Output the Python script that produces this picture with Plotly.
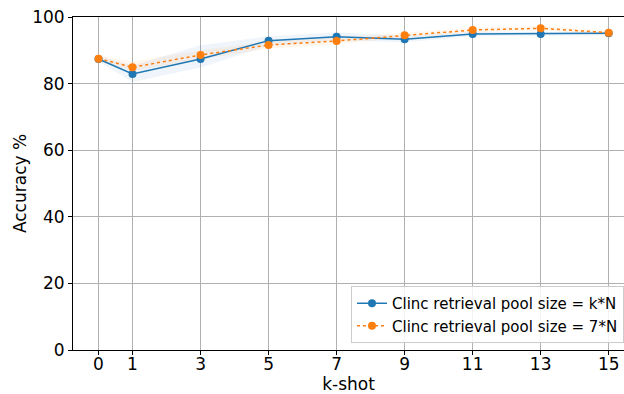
import plotly.graph_objects as go

k_shot = [0, 1, 3, 5, 7, 9, 11, 13, 15]
acc_kN = [87.4, 82.9, 87.4, 92.9, 94.1, 93.3, 94.9, 94.9, 95.1]
acc_7N = [87.5, 84.9, 88.6, 91.6, 92.8, 94.5, 96.1, 96.6, 95.3]
kN_low = [86.6, 80.5, 84.8, 91.4, 93.0, 92.4, 94.2, 94.3, 94.5]
kN_high = [88.3, 85.4, 91.5, 94.2, 95.4, 94.4, 95.6, 95.5, 95.6]
sevenN_low = [86.6, 83.8, 87.3, 90.5, 91.9, 93.8, 95.4, 96.0, 94.7]
sevenN_high = [88.4, 86.6, 90.0, 92.7, 93.8, 95.2, 96.8, 97.3, 95.9]

tick_labels = [str(k) for k in k_shot]
y_ticks = [0, 20, 40, 60, 80, 100]
name_kN = "Clinc retrieval pool size = k*N"
name_7N = "Clinc retrieval pool size = 7*N"

blue = "#1f77b4"
orange = "#ff7f0e"

fig = go.Figure()
# bands
fig.add_trace(go.Scatter(x=k_shot, y=kN_high, mode="lines", line=dict(width=0),
                         showlegend=False, hoverinfo="skip"))
fig.add_trace(go.Scatter(x=k_shot, y=kN_low, mode="lines", line=dict(width=0),
                         fill="tonexty", fillcolor="rgba(31,119,180,0.07)",
                         showlegend=False, hoverinfo="skip"))
fig.add_trace(go.Scatter(x=k_shot, y=sevenN_high, mode="lines", line=dict(width=0),
                         showlegend=False, hoverinfo="skip"))
fig.add_trace(go.Scatter(x=k_shot, y=sevenN_low, mode="lines", line=dict(width=0),
                         fill="tonexty", fillcolor="rgba(255,127,14,0.07)",
                         showlegend=False, hoverinfo="skip"))

fig.add_trace(go.Scatter(x=k_shot, y=acc_kN, mode="lines+markers", name=name_kN,
                         line=dict(color=blue, width=1.5),
                         marker=dict(color=blue, size=8)))
fig.add_trace(go.Scatter(x=k_shot, y=acc_7N, mode="lines+markers", name=name_7N,
                         line=dict(color=orange, width=1.5, dash="dot"),
                         marker=dict(color=orange, size=8)))

font = "DejaVu Sans"
fig.update_layout(
    width=624, height=394,
    margin=dict(l=73, r=0, t=17, b=44),
    paper_bgcolor="white", plot_bgcolor="white",
    font=dict(family=font, size=17, color="black"),
    legend=dict(x=1.0, xanchor="right", y=0.021, yanchor="bottom",
                traceorder="normal",
                bgcolor="rgba(255,255,255,0.85)", bordercolor="#cccccc", borderwidth=1,
                font=dict(family=font, size=15), tracegroupgap=0),
)
fig.update_xaxes(
    range=[-0.75, 15.45], tickvals=k_shot, ticktext=tick_labels,
    showgrid=True, gridcolor="#b0b0b0", gridwidth=1,
    showline=True, linecolor="black", linewidth=1, mirror=True,
    ticks="outside", ticklen=4, tickcolor="black", zeroline=False,
    ticklabelstandoff=-5,
    automargin=False,
    title=dict(text="k-shot", font=dict(family=font, size=17), standoff=0),
    tickfont=dict(family=font, size=17),
)
fig.update_yaxes(
    range=[0, 100], tickvals=y_ticks,
    showgrid=True, gridcolor="#b0b0b0", gridwidth=1,
    showline=True, linecolor="black", linewidth=1, mirror=False,
    ticks="outside", ticklen=4, tickcolor="black", zeroline=False,
    automargin=False,
    title=dict(text="Accuracy %", font=dict(family=font, size=17), standoff=1),
    tickfont=dict(family=font, size=17),
)

fig.write_html("out.html")
